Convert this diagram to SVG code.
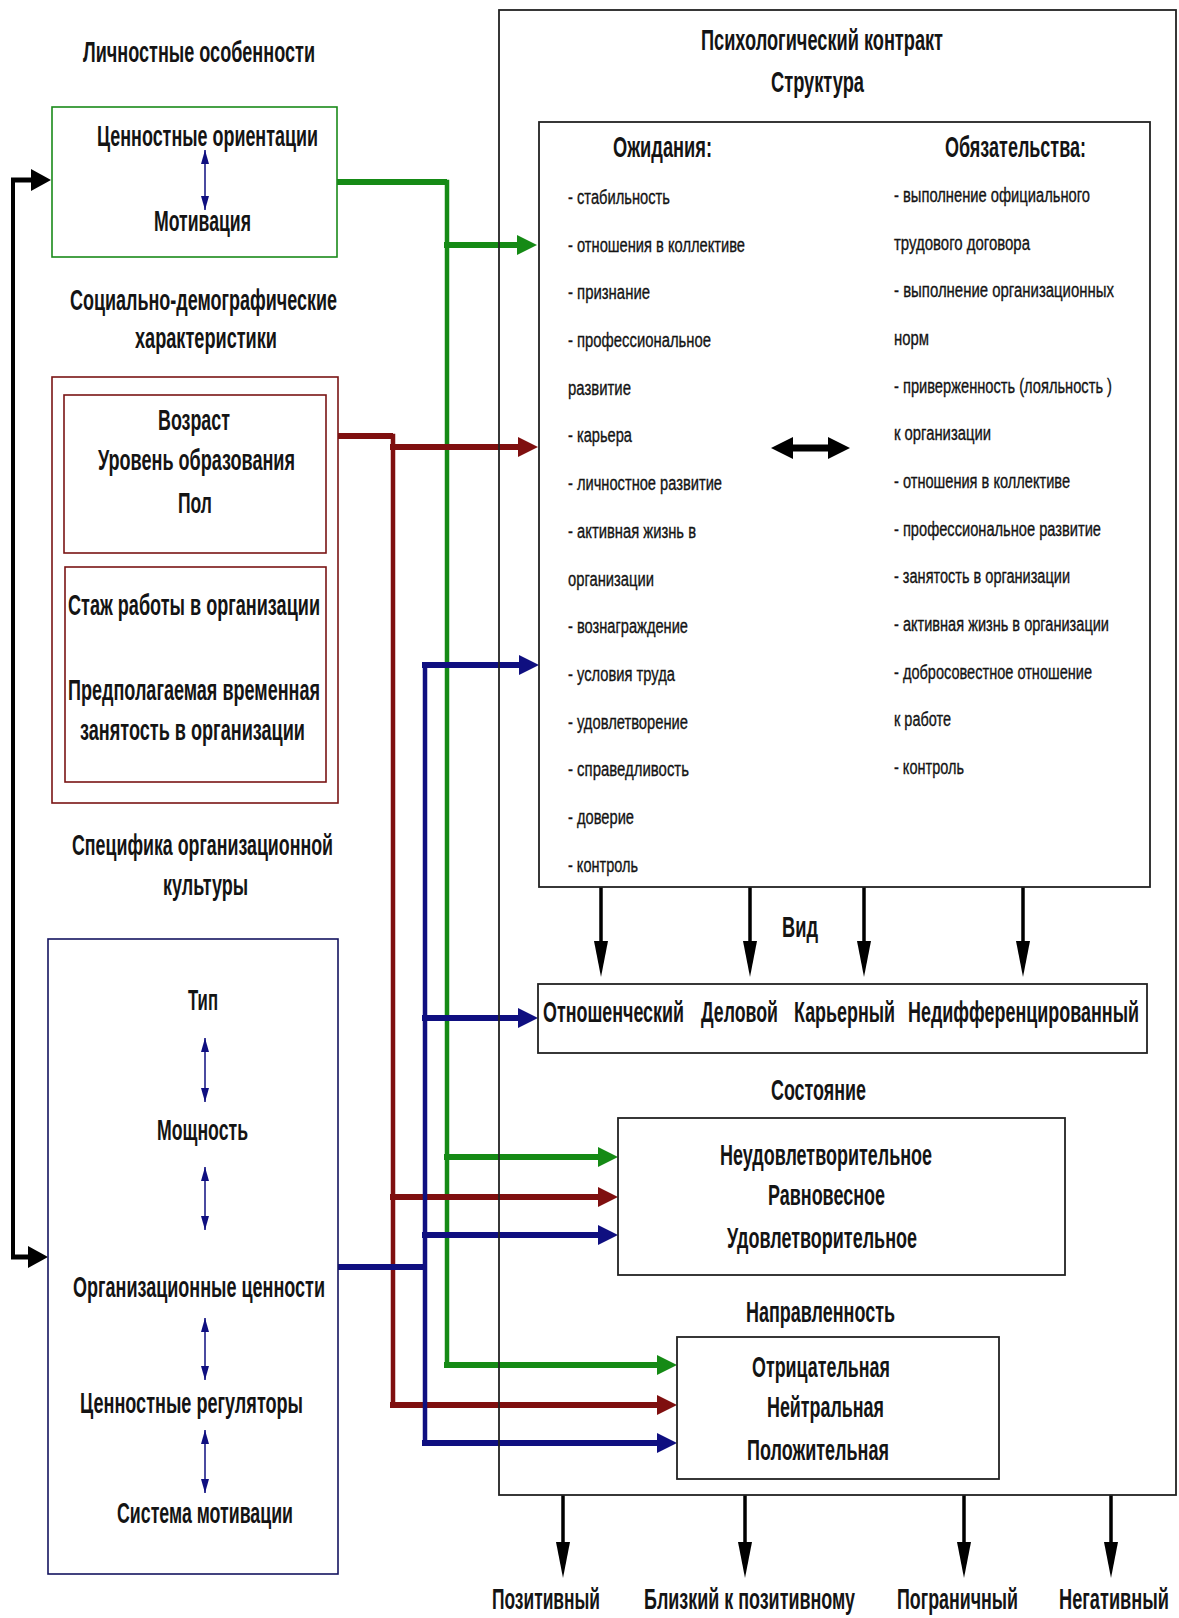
<svg xmlns="http://www.w3.org/2000/svg" width="1179" height="1618" viewBox="0 0 1179 1618">
<style>
text{font-family:"Liberation Sans",Arial,sans-serif;fill:#141414}
.lb{font-weight:bold;font-size:29px}
.rb{font-weight:bold;font-size:30px}
.it{font-size:20px;stroke:#141414;stroke-width:0.35}
.box{fill:none;stroke:#222;stroke-width:1.8}
.gbox{fill:none;stroke:#1a8a1a;stroke-width:1.6}
.rbox{fill:none;stroke:#7a1414;stroke-width:1.6}
.nbox{fill:none;stroke:#141460;stroke-width:1.6}
.g{stroke:#158a15;fill:none}
.r{stroke:#7f0f0f;fill:none}
.n{stroke:#0f0f80;fill:none}
.k{stroke:#000;fill:none}
.h{stroke-width:6}
.v{stroke-width:4.5;stroke-linecap:square}
</style>
<defs>
<marker id="ag" markerUnits="userSpaceOnUse" markerWidth="20" markerHeight="20" refX="2" refY="10" orient="auto"><path d="M0,0 L20,10 L0,20 z" fill="#158a15"/></marker>
<marker id="ar" markerUnits="userSpaceOnUse" markerWidth="20" markerHeight="20" refX="2" refY="10" orient="auto"><path d="M0,0 L20,10 L0,20 z" fill="#7f0f0f"/></marker>
<marker id="an" markerUnits="userSpaceOnUse" markerWidth="20" markerHeight="20" refX="2" refY="10" orient="auto"><path d="M0,0 L20,10 L0,20 z" fill="#0f0f80"/></marker>
<marker id="ak" markerUnits="userSpaceOnUse" markerWidth="20" markerHeight="22" refX="2" refY="11" orient="auto"><path d="M0,0 L20,11 L0,22 z" fill="#000"/></marker>
<marker id="ad" markerUnits="userSpaceOnUse" markerWidth="36" markerHeight="14" refX="2" refY="7" orient="auto"><path d="M0,0 L36,7 L0,14 z" fill="#000"/></marker>
<marker id="as" markerUnits="userSpaceOnUse" markerWidth="14" markerHeight="8" refX="14" refY="4" orient="auto-start-reverse"><path d="M0,0 L14,4 L0,8 z" fill="#0f0f80"/></marker>
</defs>

<g id="connectors">
  <path class="k" stroke-width="4" d="M13,180 V1257"/>
  <path class="k" stroke-width="5" d="M11,180 H33" marker-end="url(#ak)"/>
  <path class="k" stroke-width="5" d="M11,1257 H30" marker-end="url(#ak)"/>
  <path class="g h" d="M337,182 H447"/>
  <path class="g v" d="M447,182 V1365"/>
  <path class="g h" d="M444,245 H519" marker-end="url(#ag)"/>
  <path class="g h" d="M444,1157 H600" marker-end="url(#ag)"/>
  <path class="g h" d="M444,1365 H659" marker-end="url(#ag)"/>
  <path class="r h" d="M338,436 H393"/>
  <path class="r v" d="M393,436 V1405"/>
  <path class="r h" d="M390,447 H520" marker-end="url(#ar)"/>
  <path class="r h" d="M390,1197 H600" marker-end="url(#ar)"/>
  <path class="r h" d="M390,1405 H659" marker-end="url(#ar)"/>
  <path class="n h" d="M338,1267 H427"/>
  <path class="n v" d="M425,665 V1443"/>
  <path class="n h" d="M422,665 H521" marker-end="url(#an)"/>
  <path class="n h" d="M422,1018 H520" marker-end="url(#an)"/>
  <path class="n h" d="M422,1235 H600" marker-end="url(#an)"/>
  <path class="n h" d="M422,1443 H659" marker-end="url(#an)"/>
  <path class="k" stroke-width="3.5" d="M601,887 V943" marker-end="url(#ad)"/>
  <path class="k" stroke-width="3.5" d="M750,887 V943" marker-end="url(#ad)"/>
  <path class="k" stroke-width="3.5" d="M864,887 V943" marker-end="url(#ad)"/>
  <path class="k" stroke-width="3.5" d="M1023,887 V943" marker-end="url(#ad)"/>
  <path class="k" stroke-width="3.5" d="M563,1495 V1544" marker-end="url(#ad)"/>
  <path class="k" stroke-width="3.5" d="M745,1495 V1544" marker-end="url(#ad)"/>
  <path class="k" stroke-width="3.5" d="M964,1495 V1544" marker-end="url(#ad)"/>
  <path class="k" stroke-width="3.5" d="M1111,1495 V1544" marker-end="url(#ad)"/>
  <polygon fill="#000" points="771,448 793,437 793,444.5 828,444.5 828,437 850,448 828,459 828,451.5 793,451.5 793,459"/>
</g>

<g id="personal">
  <text class="lb" x="83" y="62" textLength="232" lengthAdjust="spacingAndGlyphs">Личностные особенности</text>
  <rect class="gbox" x="52" y="107" width="285" height="150"/>
  <text class="lb" x="97" y="146" textLength="221" lengthAdjust="spacingAndGlyphs">Ценностные ориентации</text>
  <path class="n" stroke-width="1.5" d="M205,150 V210" marker-start="url(#as)" marker-end="url(#as)"/>
  <text class="lb" x="154" y="231" textLength="97" lengthAdjust="spacingAndGlyphs">Мотивация</text>
</g>

<g id="sociodemographic">
  <text class="lb" x="70" y="310" textLength="267" lengthAdjust="spacingAndGlyphs">Социально-демографические</text>
  <text class="lb" x="135" y="348" textLength="142" lengthAdjust="spacingAndGlyphs">характеристики</text>
  <rect class="rbox" x="52" y="377" width="286" height="426"/>
  <rect class="rbox" x="64" y="395" width="262" height="158"/>
  <text class="lb" x="158" y="430" textLength="72" lengthAdjust="spacingAndGlyphs">Возраст</text>
  <text class="lb" x="98" y="470" textLength="197" lengthAdjust="spacingAndGlyphs">Уровень образования</text>
  <text class="lb" x="178" y="513" textLength="34" lengthAdjust="spacingAndGlyphs">Пол</text>
  <rect class="rbox" x="65" y="567" width="261" height="215"/>
  <text class="lb" x="68" y="615" textLength="252" lengthAdjust="spacingAndGlyphs">Стаж работы в организации</text>
  <text class="lb" x="68" y="700" textLength="252" lengthAdjust="spacingAndGlyphs">Предполагаемая временная</text>
  <text class="lb" x="80" y="740" textLength="225" lengthAdjust="spacingAndGlyphs">занятость в организации</text>
</g>

<g id="culture">
  <text class="lb" x="72" y="855" textLength="261" lengthAdjust="spacingAndGlyphs">Специфика организационной</text>
  <text class="lb" x="163" y="895" textLength="85" lengthAdjust="spacingAndGlyphs">культуры</text>
  <rect class="nbox" x="48" y="939" width="290" height="635"/>
  <text class="lb" x="188" y="1010" textLength="30" lengthAdjust="spacingAndGlyphs">Тип</text>
  <path class="n" stroke-width="1.5" d="M205,1038 V1102" marker-start="url(#as)" marker-end="url(#as)"/>
  <text class="lb" x="157" y="1140" textLength="91" lengthAdjust="spacingAndGlyphs">Мощность</text>
  <path class="n" stroke-width="1.5" d="M205,1167 V1230" marker-start="url(#as)" marker-end="url(#as)"/>
  <text class="lb" x="73" y="1297" textLength="252" lengthAdjust="spacingAndGlyphs">Организационные ценности</text>
  <path class="n" stroke-width="1.5" d="M205,1318 V1380" marker-start="url(#as)" marker-end="url(#as)"/>
  <text class="lb" x="80" y="1413" textLength="223" lengthAdjust="spacingAndGlyphs">Ценностные регуляторы</text>
  <path class="n" stroke-width="1.5" d="M205,1430 V1493" marker-start="url(#as)" marker-end="url(#as)"/>
  <text class="lb" x="117" y="1523" textLength="176" lengthAdjust="spacingAndGlyphs">Система мотивации</text>
</g>

<g id="contract">
  <rect class="box" x="499" y="10" width="677" height="1485" stroke-width="1.5"/>
  <text class="rb" x="701" y="50" textLength="242" lengthAdjust="spacingAndGlyphs">Психологический контракт</text>
  <text class="rb" x="771" y="92" textLength="93" lengthAdjust="spacingAndGlyphs">Структура</text>
</g>

<g id="structure">
  <rect class="box" x="539" y="122" width="611" height="765" stroke-width="2"/>
  <text class="rb" x="613" y="157" textLength="99" lengthAdjust="spacingAndGlyphs">Ожидания:</text>
  <text class="rb" x="945" y="157" textLength="141" lengthAdjust="spacingAndGlyphs">Обязательства:</text>
  <g id="expectations">
    <text class="it" x="568" y="204" textLength="102" lengthAdjust="spacingAndGlyphs">- стабильность</text>
    <text class="it" x="568" y="252" textLength="177" lengthAdjust="spacingAndGlyphs">- отношения в коллективе</text>
    <text class="it" x="568" y="299" textLength="82" lengthAdjust="spacingAndGlyphs">- признание</text>
    <text class="it" x="568" y="347" textLength="143" lengthAdjust="spacingAndGlyphs">- профессиональное</text>
    <text class="it" x="568" y="395" textLength="63" lengthAdjust="spacingAndGlyphs">развитие</text>
    <text class="it" x="568" y="442" textLength="64" lengthAdjust="spacingAndGlyphs">- карьера</text>
    <text class="it" x="568" y="490" textLength="154" lengthAdjust="spacingAndGlyphs">- личностное развитие</text>
    <text class="it" x="568" y="538" textLength="128" lengthAdjust="spacingAndGlyphs">- активная жизнь в</text>
    <text class="it" x="568" y="586" textLength="86" lengthAdjust="spacingAndGlyphs">организации</text>
    <text class="it" x="568" y="633" textLength="120" lengthAdjust="spacingAndGlyphs">- вознаграждение</text>
    <text class="it" x="568" y="681" textLength="107" lengthAdjust="spacingAndGlyphs">- условия труда</text>
    <text class="it" x="568" y="729" textLength="120" lengthAdjust="spacingAndGlyphs">- удовлетворение</text>
    <text class="it" x="568" y="776" textLength="121" lengthAdjust="spacingAndGlyphs">- справедливость</text>
    <text class="it" x="568" y="824" textLength="66" lengthAdjust="spacingAndGlyphs">- доверие</text>
    <text class="it" x="568" y="872" textLength="70" lengthAdjust="spacingAndGlyphs">- контроль</text>
  </g>
  <g id="obligations">
    <text class="it" x="894" y="202" textLength="196" lengthAdjust="spacingAndGlyphs">- выполнение официального</text>
    <text class="it" x="894" y="250" textLength="136" lengthAdjust="spacingAndGlyphs">трудового договора</text>
    <text class="it" x="894" y="297" textLength="220" lengthAdjust="spacingAndGlyphs">- выполнение организационных</text>
    <text class="it" x="894" y="345" textLength="35" lengthAdjust="spacingAndGlyphs">норм</text>
    <text class="it" x="894" y="393" textLength="218" lengthAdjust="spacingAndGlyphs">- приверженность (лояльность )</text>
    <text class="it" x="894" y="440" textLength="97" lengthAdjust="spacingAndGlyphs">к организации</text>
    <text class="it" x="894" y="488" textLength="176" lengthAdjust="spacingAndGlyphs">- отношения в коллективе</text>
    <text class="it" x="894" y="536" textLength="207" lengthAdjust="spacingAndGlyphs">- профессиональное развитие</text>
    <text class="it" x="894" y="583" textLength="176" lengthAdjust="spacingAndGlyphs">- занятость в организации</text>
    <text class="it" x="894" y="631" textLength="215" lengthAdjust="spacingAndGlyphs">- активная жизнь в организации</text>
    <text class="it" x="894" y="679" textLength="198" lengthAdjust="spacingAndGlyphs">- добросовестное отношение</text>
    <text class="it" x="894" y="726" textLength="57" lengthAdjust="spacingAndGlyphs">к работе</text>
    <text class="it" x="894" y="774" textLength="70" lengthAdjust="spacingAndGlyphs">- контроль</text>
  </g>
</g>

<g id="kind">
  <text class="rb" x="782" y="937" textLength="36" lengthAdjust="spacingAndGlyphs">Вид</text>
  <rect class="box" x="538" y="984" width="609" height="69"/>
  <text class="rb" x="543" y="1022" textLength="141" lengthAdjust="spacingAndGlyphs">Отношенческий</text>
  <text class="rb" x="701" y="1022" textLength="77" lengthAdjust="spacingAndGlyphs">Деловой</text>
  <text class="rb" x="794" y="1022" textLength="101" lengthAdjust="spacingAndGlyphs">Карьерный</text>
  <text class="rb" x="908" y="1022" textLength="231" lengthAdjust="spacingAndGlyphs">Недифференцированный</text>
</g>

<g id="state">
  <text class="rb" x="771" y="1100" textLength="95" lengthAdjust="spacingAndGlyphs">Состояние</text>
  <rect class="box" x="618" y="1118" width="447" height="157"/>
  <text class="rb" x="720" y="1165" textLength="212" lengthAdjust="spacingAndGlyphs">Неудовлетворительное</text>
  <text class="rb" x="768" y="1205" textLength="117" lengthAdjust="spacingAndGlyphs">Равновесное</text>
  <text class="rb" x="727" y="1248" textLength="190" lengthAdjust="spacingAndGlyphs">Удовлетворительное</text>
</g>

<g id="direction">
  <text class="rb" x="746" y="1322" textLength="149" lengthAdjust="spacingAndGlyphs">Направленность</text>
  <rect class="box" x="677" y="1337" width="322" height="142"/>
  <text class="rb" x="752" y="1377" textLength="138" lengthAdjust="spacingAndGlyphs">Отрицательная</text>
  <text class="rb" x="767" y="1417" textLength="117" lengthAdjust="spacingAndGlyphs">Нейтральная</text>
  <text class="rb" x="747" y="1460" textLength="142" lengthAdjust="spacingAndGlyphs">Положительная</text>
</g>

<g id="outcomes">
  <text class="rb" x="492" y="1609" textLength="108" lengthAdjust="spacingAndGlyphs">Позитивный</text>
  <text class="rb" x="644" y="1609" textLength="211" lengthAdjust="spacingAndGlyphs">Близкий к позитивному</text>
  <text class="rb" x="897" y="1609" textLength="121" lengthAdjust="spacingAndGlyphs">Пограничный</text>
  <text class="rb" x="1059" y="1609" textLength="110" lengthAdjust="spacingAndGlyphs">Негативный</text>
</g>
</svg>
